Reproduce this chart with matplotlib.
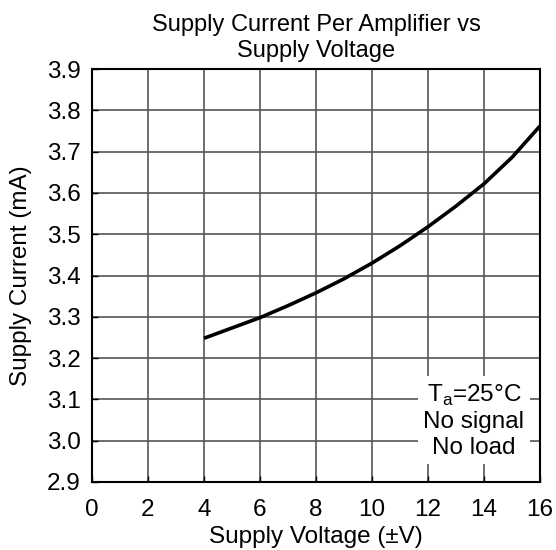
import numpy as np
import matplotlib.pyplot as plt

plt.rcParams['font.family'] = ['Liberation Sans', 'DejaVu Sans']

# supply voltage (±V) and supply current (mA)
voltage = [4, 5, 6, 7, 8, 9, 10, 11, 12, 13, 14, 15, 16]
current = [3.248, 3.273, 3.298, 3.327, 3.358, 3.392, 3.430, 3.472, 3.518, 3.568, 3.622, 3.686, 3.762]

fig = plt.figure(figsize=(5.56, 5.5), dpi=100)
ax = fig.add_axes([92/556, 1 - 482/550, 448/556, 413/550])

ax.plot(voltage, current, color="black", linewidth=2.6, solid_capstyle="butt", zorder=3)

ax.set_xlim(0, 16)
ax.set_ylim(2.9, 3.9)
ax.set_xticks(np.arange(0, 17, 2))
ax.set_yticks(np.round(np.arange(2.9, 3.91, 0.1), 1))
ax.set_yticklabels(["%.1f" % v for v in np.arange(2.9, 3.91, 0.1)])
ax.grid(True, color="#555555", linewidth=1.2)
ax.tick_params(direction="in", length=4, width=1, labelsize=17.5, colors="black")
ax.tick_params(axis="x", pad=12)
ax.tick_params(axis="y", pad=8)
for s in ax.spines.values():
    s.set_linewidth(1.5)

ax.set_xlabel("Supply Voltage (±V)", fontsize=17.5, labelpad=4)
ax.set_ylabel("Supply Current (mA)", fontsize=17.5, labelpad=11)
ax.set_title("Supply Current Per Amplifier vs\nSupply Voltage", fontsize=17, pad=9, linespacing=1.2)

ax.text(13.64, 3.048, "T$_\\mathregular{a}$=25°C\nNo signal\nNo load", fontsize=17.5, ha="center", va="center",
        linespacing=1.2, bbox=dict(facecolor="white", edgecolor="none", pad=4), zorder=4)

fig.savefig("out.png", dpi=100)
